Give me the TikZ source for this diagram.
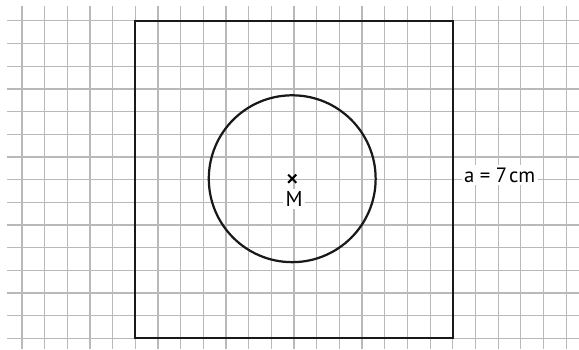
\documentclass[tikz,border=0pt]{standalone}
\usepackage{fontspec}
\setmainfont{PT Sans}
\usepackage{tikz}
\usetikzlibrary{shapes.misc}
\tikzset{
  gridline/.style={
    draw=gray!55,
    line width=0.7pt
  },
  figure/.style={
    draw=black!90,
    line width=1.4pt
  },
  centermark/.style={
    cross out,
    draw=black,
    fill=white,
    line width=1.3pt,
    minimum size=3.8pt,
    inner sep=0pt
  },
  label/.style={
    fill=white,
    inner sep=1.5pt,
    font=\fontsize{13}{15}\selectfont
  }
}

\begin{document}
\begin{tikzpicture}
  % same frame as the reference
  \useasboundingbox (-2.985,-0.236) rectangle (9.785,7.462);

  % squared paper
  \foreach \y in {0,0.5,...,7}
    \draw[gridline] (-2.835,\y) -- (9.785,\y);
  \foreach \x in {-2.5,-2,...,9.5}
    \draw[gridline] (\x,-0.236) -- (\x,7.33);

  % square, a = 7 cm
  \coordinate (sq-sw) at (0,0);
  \coordinate (sq-ne) at (7,7);
  \draw[figure] (sq-sw) rectangle (sq-ne);

  % circle round M
  \coordinate (M) at (3.46,3.52);
  \draw[figure] (M) circle (1.84);
  \node[centermark] (M-mark) at (M) {};
  \node[label, anchor=base, font=\fontsize{13.5}{15}\selectfont] (M-label) at (3.5,2.9) {M};

  \node[label, anchor=base west] (a-label) at (7.19,3.44) {a = 7\kern1.2pt cm};
\end{tikzpicture}
\end{document}
